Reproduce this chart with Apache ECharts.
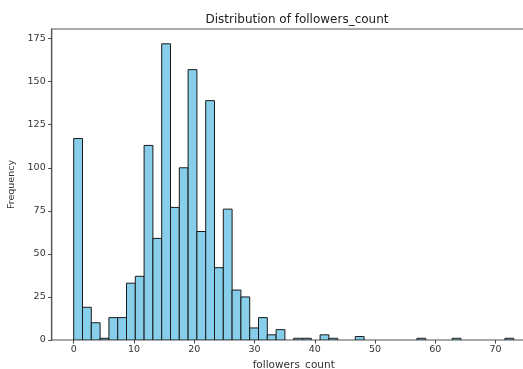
<!DOCTYPE html>
<html>
<head>
<meta charset="utf-8">
<script src="https://cdn.jsdelivr.net/npm/echarts@6/dist/echarts.min.js"></script>
<style>html,body{margin:0;padding:0;background:#fff;}#c{width:523px;height:369px;}</style>
</head>
<body>
<div id="c"></div>
<script>
// Histogram of followers_count: 50 bins over [0, 73]
var binStart = 0;
var binWidth = 1.46;
var counts = [117, 19, 10, 1, 13, 13, 33, 37, 113, 59,
              172, 77, 100, 157, 63, 139, 42, 76, 29, 25,
              7, 13, 3, 6, 0, 1, 1, 0, 3, 1,
              0, 0, 2, 0, 0, 0, 0, 0, 0, 1,
              0, 0, 0, 1, 0, 0, 0, 0, 0, 1];
var xTicks = [0, 10, 20, 30, 40, 50, 60, 70];
var yTicks = [0, 25, 50, 75, 100, 125, 150, 175];
var titleText = 'Distribution of followers_count';
var xName = 'followers_count';
var yName = 'Frequency';

var data = counts.map(function (c, i) {
  return [binStart + i * binWidth, binStart + (i + 1) * binWidth, c];
});

var chart = echarts.init(document.getElementById('c'));
var font = 'DejaVu Sans';
chart.setOption({
  animation: false,
  title: {
    text: titleText, left: 292, top: 9, textAlign: 'center',
    textStyle: { fontFamily: font, fontSize: 12, fontWeight: 'normal', color: '#222' }
  },
  grid: { left: 51.7, top: 29, width: 484, height: 311, show: true, borderColor: '#555', borderWidth: 1.2,
          outerBoundsMode: 'none', containLabel: false },
  xAxis: {
    type: 'value', min: -3.65, max: 76.65,
    name: xName, nameLocation: 'middle', nameGap: 19,
    nameTextStyle: { fontFamily: font, fontSize: 10.5, color: '#333' },
    axisLine: { show: true, onZero: false, lineStyle: { color: '#aaa', width: 1.2 } },
    axisTick: { show: true, customValues: xTicks, length: 3.5, lineStyle: { color: '#444' } },
    axisLabel: { customValues: xTicks, fontFamily: font, fontSize: 9.5, color: '#333', margin: 5 },
    splitLine: { show: false }
  },
  yAxis: {
    type: 'value', min: 0, max: 180.6,
    name: yName, nameLocation: 'middle', nameGap: 34,
    nameTextStyle: { fontFamily: font, fontSize: 9.5, color: '#333' },
    axisLine: { show: true, onZero: false, lineStyle: { color: '#555', width: 1.2 } },
    axisTick: { show: true, customValues: yTicks, length: 3.5, lineStyle: { color: '#444' } },
    axisLabel: { customValues: yTicks, fontFamily: font, fontSize: 9.5, color: '#333', margin: 6 },
    splitLine: { show: false }
  },
  series: [{
    type: 'custom',
    data: data,
    clip: true,
    encode: { x: [0, 1], y: 2 },
    renderItem: function (params, api) {
      if (!api.value(2)) return null;
      var p0 = api.coord([api.value(0), 0]);
      var p1 = api.coord([api.value(1), api.value(2)]);
      return {
        type: 'rect',
        shape: { x: p0[0], y: p1[1], width: p1[0] - p0[0], height: p0[1] - p1[1] },
        style: { fill: '#87CEEB', stroke: '#1a1a1a', lineWidth: 1 }
      };
    }
  }]
});
</script>
</body>
</html>
